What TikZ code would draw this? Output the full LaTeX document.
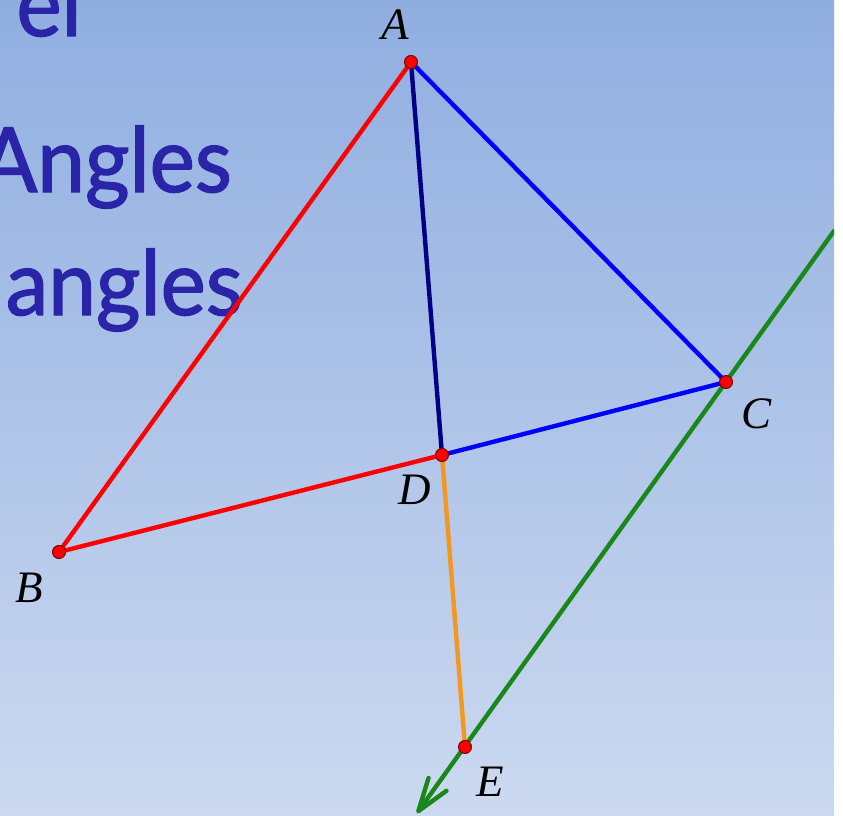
\documentclass[tikz,border=0pt]{standalone}
\usepackage{fontspec}
\newfontfamily\titlefont[FakeBold=1.6]{Lato}
\newfontfamily\labelfont{Liberation Serif}
\usetikzlibrary{arrows.meta}
\definecolor{bgtop}{RGB}{143,174,224}
\definecolor{bgbot}{RGB}{204,217,240}
\definecolor{titleblue}{RGB}{42,36,168}
\definecolor{segnavy}{RGB}{0,0,135}
\definecolor{segorange}{RGB}{245,150,30}
\definecolor{seggreen}{RGB}{25,135,25}
\definecolor{ptedge}{RGB}{120,0,0}
\tikzset{
  seg/.style={line width=4.4pt, line cap=round},
  pt/.style={circle, fill=red, draw=ptedge, line width=1pt, minimum size=13pt, inner sep=0pt},
  lbl/.style={font=\labelfont\itshape\fontsize{45}{50}\selectfont, inner sep=0pt},
  ttl/.style={font=\titlefont\fontsize{90}{100}\selectfont, text=titleblue, inner sep=0pt, xscale=0.95},
}
\begin{document}
\begin{tikzpicture}[x=1pt,y=-1pt]
\useasboundingbox (0,0) rectangle (843,816);
\fill[white] (0,0) rectangle (843,816);
\begin{scope}
\clip (0,0) rectangle (834,816);
\shade[top color=bgtop, bottom color=bgbot] (0,0) rectangle (834,816);
% title text
\node[ttl, anchor=base east] (t1) at (82,36) {el};
\node[ttl, anchor=base east] (t2) at (232,192) {Angles};
\node[ttl, anchor=base east] (t3) at (243,315) {angles};
% points
\coordinate (A) at (411,62);
\coordinate (B) at (59,552);
\coordinate (C) at (726,382);
\coordinate (D) at (442,455);
\coordinate (E) at (465,747);
\coordinate (G1) at (834,231);
\coordinate (G2) at (417,813);
% green line with arrow
\draw[seg, seggreen, -{Straight Barb[length=33pt,width=22pt,round]}] (G1) -- (G2);
% segments
\draw[seg, red] (A) -- (B);
\draw[seg, red] (B) -- (D);
\draw[seg, blue] (A) -- (C);
\draw[seg, blue] (D) -- (C);
\draw[seg, segnavy] (A) -- (D);
\draw[seg, segorange] (D) -- (E);
% dots
\foreach \p in {A,B,C,D,E} \node[pt] (dot\p) at (\p) {};
% labels
\node[lbl] (lA) at (395,25) {A};
\node[lbl] (lB) at (29,588) {B};
\node[lbl] (lC) at (756,414) {C};
\node[lbl] (lD) at (415,490) {D};
\node[lbl] (lE) at (490,782) {E};
\end{scope}
\end{tikzpicture}
\end{document}
